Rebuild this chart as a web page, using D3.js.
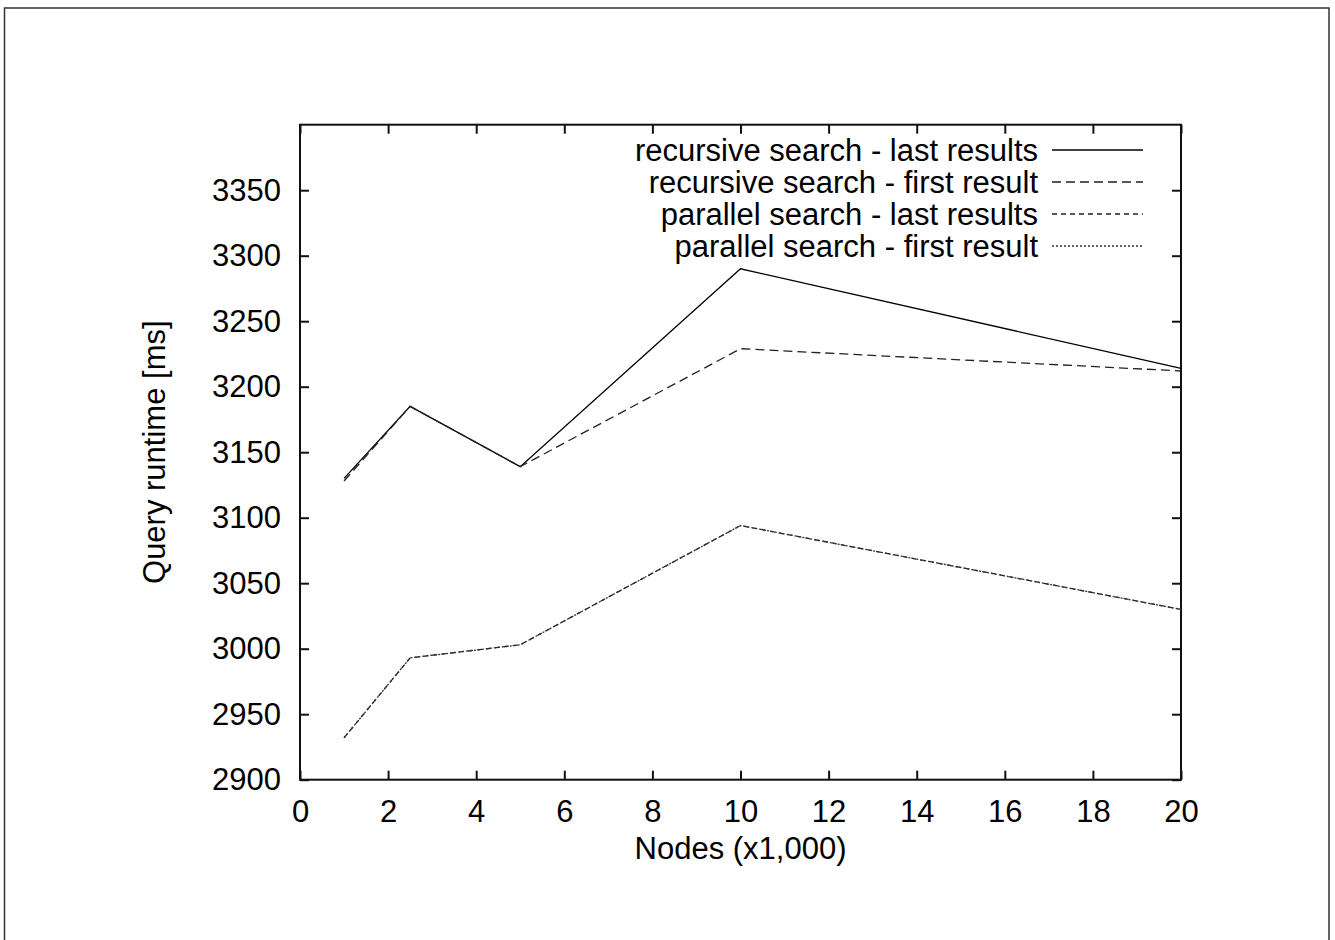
<!DOCTYPE html>
<html>
<head>
<meta charset="utf-8">
<script src="https://cdn.jsdelivr.net/npm/d3@7"></script>
<style>
  html, body { margin: 0; padding: 0; background: #fff; }
  svg { display: block; }
  text { font-family: "Liberation Sans", Arial, Helvetica, sans-serif; fill: #000; }
</style>
</head>
<body>
<svg id="chart" width="1335" height="940"></svg>
<script>
// Node counts (thousands)
const nodes = [1, 2.5, 5, 10, 20];

// Query runtimes in milliseconds
const recursiveLast  = [3130, 3185, 3139, 3290, 3214];
const recursiveFirst = [3128, 3185, 3139, 3229, 3212];
const parallelLast   = [2932, 2993, 3003, 3094, 3030];
const parallelFirst  = [2932, 2993, 3003, 3094, 3030];

const seriesNames = [
  "recursive search - last results",
  "recursive search - first result",
  "parallel search - last results",
  "parallel search - first result"
];

const xTicks = [0, 2, 4, 6, 8, 10, 12, 14, 16, 18, 20];
const yTicks = [2900, 2950, 3000, 3050, 3100, 3150, 3200, 3250, 3300, 3350];

const series = [
  { name: seriesNames[0], values: recursiveLast,  dash: null,   color: "#000" },
  { name: seriesNames[1], values: recursiveFirst, dash: "9,5",  color: "#222" },
  { name: seriesNames[2], values: parallelLast,   dash: "5,4",  color: "#222" },
  { name: seriesNames[3], values: parallelFirst,  dash: "2,2",  color: "#333" }
];

const svg = d3.select("#chart");
const plotLeft = 300, plotRight = 1181, plotTop = 124.7, plotBottom = 779.7;

const x = d3.scaleLinear().domain([0, 20]).range([plotLeft, plotRight]);
const y = d3.scaleLinear().domain([2900, 3400]).range([plotBottom, plotTop]);

// outer page frame
svg.append("rect")
  .attr("x", 4.5).attr("y", 8)
  .attr("width", 1324.5).attr("height", 960)
  .attr("fill", "none").attr("stroke", "#333").attr("stroke-width", 1.5);

const tickLen = 9;
const fontSize = 31;

// axes: ticks drawn inward, mirrored on the opposite sides
const axisBottom = d3.axisBottom(x).tickValues(xTicks).tickSize(-tickLen).tickPadding(20).tickFormat(d3.format("d"));
const axisTop = d3.axisTop(x).tickValues(xTicks).tickSize(-tickLen).tickFormat("");
const axisLeft = d3.axisLeft(y).tickValues(yTicks).tickSize(-tickLen).tickPadding(19).tickFormat(d3.format("d"));
const axisRight = d3.axisRight(y).tickValues(yTicks).tickSize(-tickLen).tickFormat("");

function styleAxis(g) {
  g.select(".domain").remove();
  g.selectAll(".tick line").attr("stroke", "#111").attr("stroke-width", 2);
  g.selectAll(".tick text")
    .attr("font-family", "'Liberation Sans', Arial, sans-serif")
    .attr("font-size", fontSize).attr("fill", "#000");
}

svg.append("g").attr("transform", `translate(0,${plotBottom})`).call(axisBottom).call(styleAxis);
svg.append("g").attr("transform", `translate(0,${plotTop})`).call(axisTop).call(styleAxis);
svg.append("g").attr("transform", `translate(${plotLeft},0)`).call(axisLeft).call(styleAxis);
svg.append("g").attr("transform", `translate(${plotRight},0)`).call(axisRight).call(styleAxis);

// plot frame
svg.append("rect")
  .attr("x", plotLeft).attr("y", plotTop)
  .attr("width", plotRight - plotLeft).attr("height", plotBottom - plotTop)
  .attr("fill", "none").attr("stroke", "#111").attr("stroke-width", 2);

// data lines
const line = d3.line().x((d, i) => x(nodes[i])).y(d => y(d));
series.forEach(s => {
  svg.append("path")
    .datum(s.values)
    .attr("d", line)
    .attr("fill", "none")
    .attr("stroke", s.color)
    .attr("stroke-width", 1.3)
    .attr("stroke-dasharray", s.dash);
});

// legend
const legendTextX = 1038, sampleX0 = 1052, sampleX1 = 1143;
const rowY = [150, 182, 214, 246];
series.forEach((s, i) => {
  svg.append("text")
    .attr("x", legendTextX).attr("y", rowY[i])
    .attr("dy", "0.35em")
    .attr("text-anchor", "end")
    .attr("font-size", fontSize)
    .text(s.name);
  svg.append("line")
    .attr("x1", sampleX0).attr("x2", sampleX1)
    .attr("y1", rowY[i]).attr("y2", rowY[i])
    .attr("stroke", s.color).attr("stroke-width", 1.3)
    .attr("stroke-dasharray", s.dash);
});

// axis titles
svg.append("text")
  .attr("x", (plotLeft + plotRight) / 2).attr("y", 859)
  .attr("text-anchor", "middle")
  .attr("font-size", fontSize)
  .text("Nodes (x1,000)");

svg.append("text")
  .attr("transform", `translate(165,${(plotTop + plotBottom) / 2}) rotate(-90)`)
  .attr("text-anchor", "middle")
  .attr("font-size", fontSize)
  .text("Query runtime [ms]");
</script>
</body>
</html>
